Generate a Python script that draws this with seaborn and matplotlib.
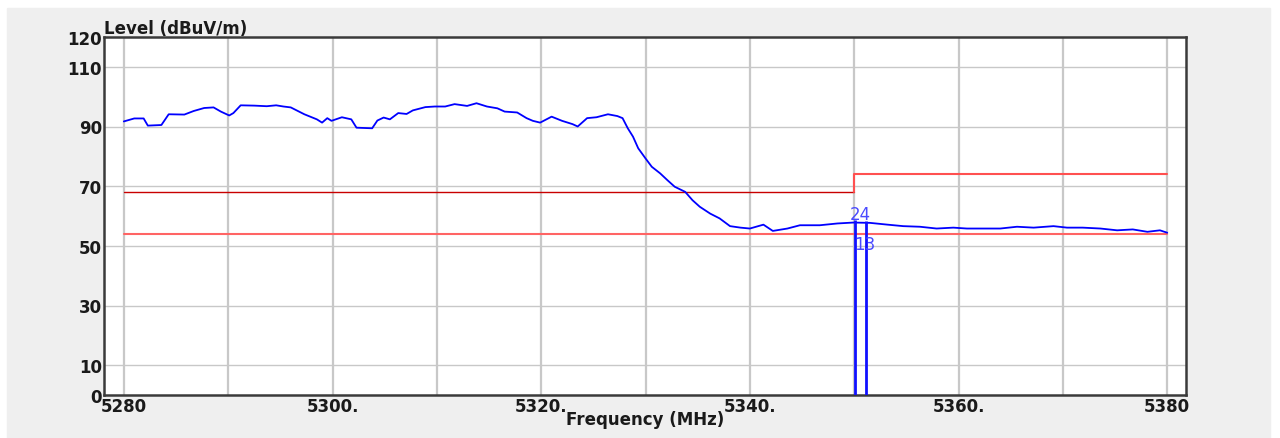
import seaborn as sns
import matplotlib.pyplot as plt
import matplotlib.patches as mpatches
import pandas as pd

freq = [5280.0, 5281.0, 5281.9, 5282.3, 5283.6, 5284.3, 5285.8, 5286.7, 5287.7, 5288.6,
        5289.3, 5290.1, 5290.5, 5291.2, 5292.5, 5293.7, 5294.6, 5295.3, 5296.0, 5297.3,
        5298.5, 5299.0, 5299.5, 5299.9, 5300.9, 5301.8, 5302.3, 5303.8, 5304.3, 5304.9,
        5305.5, 5306.3, 5307.1, 5307.7, 5308.9, 5309.8, 5310.8, 5311.7, 5312.9, 5313.8,
        5314.8, 5315.8, 5316.5, 5317.7, 5318.6, 5319.2, 5319.9, 5321.0, 5322.0, 5323.0,
        5323.5, 5324.4, 5325.3, 5326.4, 5327.3, 5327.8, 5328.3, 5328.8, 5329.3, 5330.0,
        5330.6, 5331.4, 5332.1, 5332.8, 5333.8, 5334.5, 5335.2, 5336.2, 5337.1, 5338.1,
        5339.1, 5340.0, 5341.3, 5342.2, 5343.6, 5344.8, 5346.7, 5348.4, 5349.9, 5351.5,
        5353.2, 5354.7, 5356.3, 5357.9, 5359.5, 5360.8, 5362.4, 5364.0, 5365.6, 5367.2,
        5369.1, 5370.4, 5371.9, 5373.6, 5375.2, 5376.7, 5378.1, 5379.3, 5380.0]
level = [91.7, 92.7, 92.7, 90.3, 90.5, 94.1, 94.0, 95.2, 96.2, 96.4,
         95.0, 93.7, 94.5, 97.1, 97.0, 96.8, 97.1, 96.7, 96.4, 94.1,
         92.4, 91.3, 92.8, 91.9, 93.1, 92.4, 89.6, 89.4, 92.0, 93.0,
         92.4, 94.5, 94.2, 95.4, 96.5, 96.7, 96.7, 97.5, 96.9, 97.8,
         96.7, 96.1, 95.0, 94.7, 92.8, 91.9, 91.3, 93.3, 91.9, 90.8,
         90.0, 92.8, 93.1, 94.1, 93.5, 92.8, 89.4, 86.6, 82.7, 79.3,
         76.5, 74.3, 72.0, 69.8, 68.1, 65.3, 63.1, 60.8, 59.2, 56.6,
         56.1, 55.8, 57.1, 55.0, 55.8, 56.9, 56.9, 57.5, 57.8, 57.7,
         57.1, 56.6, 56.4, 55.8, 56.1, 55.8, 55.8, 55.8, 56.4, 56.1,
         56.6, 56.1, 56.1, 55.8, 55.2, 55.5, 54.7, 55.2, 54.4]

# limit lines
avg_limit_freq = [5280, 5380]
avg_limit = [54, 54]
pk_limit_freq = [5280, 5350, 5350, 5380]
pk_limit = [68.2, 68.2, 74, 74]

# markers
marker_freq = [5350.1, 5351.1]
marker_top = [58.5, 58.3]

x_ticks = [5280, 5300, 5320, 5340, 5360, 5380]
x_labels = ['5280', '5300.', '5320.', '5340.', '5360.', '5380']
y_ticks = [0, 10, 30, 50, 70, 90, 110, 120]

data = pd.DataFrame({'freq': freq, 'level': level})

sns.set_theme(style='white')
plt.rcParams['font.family'] = ['DejaVu Sans']

fig = plt.figure(figsize=(12.8, 4.39), dpi=100, facecolor='white')
fig.add_artist(mpatches.Rectangle((7 / 1280, 0), 1263 / 1280, 1 - 9 / 439,
                                  transform=fig.transFigure, color='#efefef', zorder=-10))
ax = fig.add_axes([104 / 1280, 1 - 396 / 439, 1082 / 1280, 358 / 439])
ax.set_zorder(5)
ax.set_facecolor('white')

# grid
for f in range(5280, 5381, 10):
    ax.axvline(f, color='#c8c8c8', lw=1.6, zorder=1)
for v in [10, 30, 50, 70, 90, 110]:
    ax.axhline(v, color='#c8c8c8', lw=1.0, zorder=1)

ax.plot(avg_limit_freq, avg_limit, color='#ff6464', lw=1.5, zorder=2)
ax.plot(pk_limit_freq[:2], pk_limit[:2], color='#c80000', lw=1.0, zorder=2)
ax.plot(pk_limit_freq[1:], pk_limit[1:], color='#ff5050', lw=1.5, zorder=2)

sns.lineplot(data=data, x='freq', y='level', color='#0000ff', lw=1.3, ax=ax, zorder=3)

ax.vlines(marker_freq, 0, marker_top, color='#1010ff', lw=2, zorder=4)
ax.text(5350.6, 60.8, '24', color='#4a4aff', fontsize=12, ha='center', va='center', zorder=5)
ax.text(5351.0, 50.6, '13', color='#4a4aff', fontsize=12, ha='center', va='center', zorder=5)

ax.set_xlim(5278.1, 5381.8)
ax.set_ylim(0, 120)
ax.set_xticks(x_ticks)
ax.set_xticklabels(x_labels)
ax.set_yticks(y_ticks)
ax.tick_params(length=0, labelsize=12, colors='#1a1a1a', pad=1.5)
for lab in ax.get_xticklabels() + ax.get_yticklabels():
    lab.set_fontweight('bold')

for s in ax.spines.values():
    s.set_color('#3a3a3a')
    s.set_linewidth(1.8)

ax.set_xlabel('Frequency (MHz)', fontsize=12, fontweight='bold', color='#1a1a1a', labelpad=-4)
ax.set_ylabel('')
ax.text(0, 1.0, 'Level (dBuV/m)', transform=ax.transAxes, fontsize=12, fontweight='bold',
        color='#1a1a1a', ha='left', va='bottom')

plt.savefig('out.png', dpi=100, facecolor=fig.get_facecolor())
